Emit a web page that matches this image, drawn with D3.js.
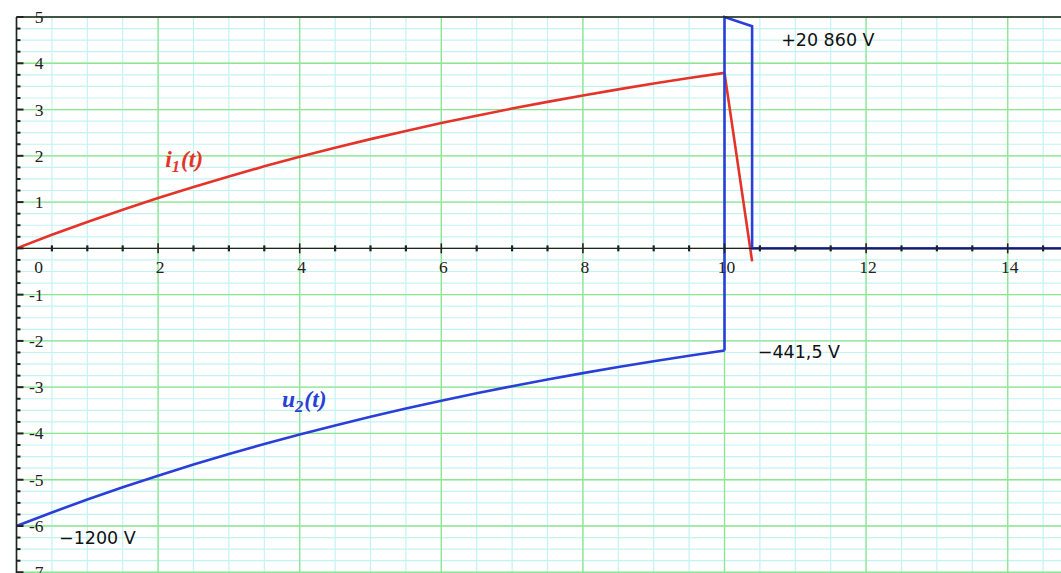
<!DOCTYPE html>
<html>
<head>
<meta charset="utf-8">
<script src="https://cdn.jsdelivr.net/npm/d3@7"></script>
<style>
  html, body { margin: 0; padding: 0; background: #fff; }
  svg { display: block; }
</style>
</head>
<body>
<svg id="chart" width="1061" height="573"></svg>
<script>
// Time samples (ms) for the charging phase
const tValues = [0, 0.5, 1, 1.5, 2, 2.5, 3, 3.5, 4, 4.5, 5, 5.5, 6, 6.5, 7, 7.5, 8, 8.5, 9, 9.5, 10];
// Primary current i1(t) (A)
const i1Values = [0, 0.293, 0.571, 0.836, 1.088, 1.327, 1.555, 1.772, 1.978, 2.174, 2.361,
                  2.538, 2.707, 2.868, 3.021, 3.166, 3.304, 3.436, 3.561, 3.680, 3.793];
// Secondary voltage u2(t) (scaled)
const u2Values = [-6, -5.707, -5.429, -5.164, -4.912, -4.673, -4.445, -4.228, -4.022, -3.826, -3.639,
                  -3.462, -3.293, -3.132, -2.980, -2.834, -2.696, -2.564, -2.440, -2.320, -2.207];
// Break of the contact: current collapse and voltage spike
const i1Break = [[10, 3.793], [10.39, -0.28]];
const u2Break = [[10, -2.207], [10, 5.0], [10.39, 4.8], [10.39, 0], [14.8, 0]];
// Axis tick labels
const xTickLabels = [0, 2, 4, 6, 8, 10, 12, 14];
const yTickLabels = [5, 4, 3, 2, 1, -1, -2, -3, -4, -5, -6, -7];
// Annotations
const annotations = [
  { text: "+20 860 V", t: 10.80, v: 4.37 },
  { text: "\u2212441,5 V", t: 10.47, v: -2.37 },
  { text: "\u22121200 V", t: 0.60, v: -6.39 }
];

const W = 1061, H = 573;
const svg = d3.select("#chart");

const x = d3.scaleLinear().domain([0, 14]).range([16.5, 1007.7]);
const y = d3.scaleLinear().domain([5, -6]).range([17, 526]);

const xMax = x.invert(W), yMin = y.invert(H);
const plotLeft = x(0), plotTop = y(5);

// Background grid: fine cyan lines, then green unit lines
const g = svg.append("g");
const minorX = d3.range(0, xMax, 0.5);
const minorY = d3.range(5, yMin, -0.25);
g.selectAll(".mx").data(minorX).join("line")
  .attr("x1", d => x(d)).attr("x2", d => x(d)).attr("y1", plotTop).attr("y2", H)
  .attr("stroke", "#c2f3f3").attr("stroke-width", 1.2);
g.selectAll(".my").data(minorY).join("line")
  .attr("x1", plotLeft).attr("x2", W).attr("y1", d => y(d)).attr("y2", d => y(d))
  .attr("stroke", "#c2f3f3").attr("stroke-width", 1.2);
const majorX = d3.range(0, xMax, 2);
const majorY = d3.range(5, yMin, -1);
g.selectAll(".Mx").data(majorX).join("line")
  .attr("x1", d => x(d)).attr("x2", d => x(d)).attr("y1", plotTop).attr("y2", H)
  .attr("stroke", "#8ee68e").attr("stroke-width", 1.3);
g.selectAll(".My").data(majorY).join("line")
  .attr("x1", plotLeft).attr("x2", W).attr("y1", d => y(d)).attr("y2", d => y(d))
  .attr("stroke", "#8ee68e").attr("stroke-width", 1.3);

// Curves
const smooth = d3.line().x(d => x(d[0])).y(d => y(d[1])).curve(d3.curveMonotoneX);
const straight = d3.line().x(d => x(d[0])).y(d => y(d[1]));
svg.append("path").attr("d", smooth(tValues.map((t, k) => [t, i1Values[k]])))
  .attr("fill", "none").attr("stroke", "#e5332a").attr("stroke-width", 2.6);
svg.append("path").attr("d", straight(i1Break))
  .attr("fill", "none").attr("stroke", "#e5332a").attr("stroke-width", 2.6);
svg.append("path").attr("d", smooth(tValues.map((t, k) => [t, u2Values[k]])))
  .attr("fill", "none").attr("stroke", "#2a3fd8").attr("stroke-width", 2.6);
svg.append("path").attr("d", straight(u2Break))
  .attr("fill", "none").attr("stroke", "#2a3fd8").attr("stroke-width", 2.6)
  .attr("stroke-linejoin", "miter");

// Axes frame
svg.append("line").attr("x1", plotLeft).attr("x2", plotLeft).attr("y1", plotTop).attr("y2", H)
  .attr("stroke", "#222").attr("stroke-width", 1.6);
svg.append("line").attr("x1", plotLeft).attr("x2", W).attr("y1", plotTop).attr("y2", plotTop)
  .attr("stroke", "#222").attr("stroke-width", 1.6);
svg.append("line").attr("x1", plotLeft).attr("x2", W).attr("y1", y(0)).attr("y2", y(0))
  .attr("stroke", "#222").attr("stroke-width", 1.3);

// Ticks on the time axis
svg.selectAll(".tx").data(minorX.filter(d => d > 0)).join("line")
  .attr("x1", d => x(d)).attr("x2", d => x(d))
  .attr("y1", d => y(0) - (d % 2 === 0 ? 5 : 3)).attr("y2", d => y(0) + (d % 2 === 0 ? 5 : 3))
  .attr("stroke", "#222").attr("stroke-width", d => d % 2 === 0 ? 1.6 : 2.2);
// Ticks on the vertical axis
svg.selectAll(".ty").data(minorY).join("line")
  .attr("x1", plotLeft).attr("x2", d => plotLeft + (Number.isInteger(d) ? 7 : 4))
  .attr("y1", d => y(d)).attr("y2", d => y(d))
  .attr("stroke", "#222").attr("stroke-width", 2);

// Tick labels
const tickFont = "'Liberation Serif', 'Times New Roman', serif";
svg.selectAll(".xl").data(xTickLabels).join("text")
  .attr("x", d => d === 0 ? x(0) + 22 : x(d) + 2)
  .attr("y", y(0) + 25)
  .attr("text-anchor", "middle")
  .attr("font-family", tickFont).attr("font-size", 17.5).attr("fill", "#222")
  .text(d => d);
svg.selectAll(".yl").data(yTickLabels).join("text")
  .attr("x", plotLeft + 27).attr("y", d => y(d) + 6)
  .attr("text-anchor", "end")
  .attr("font-family", tickFont).attr("font-size", 17.5).attr("fill", "#222")
  .text(d => d);

// Value annotations
svg.selectAll(".ann").data(annotations).join("text")
  .attr("x", d => x(d.t)).attr("y", d => y(d.v))
  .attr("font-family", "'DejaVu Sans', sans-serif").attr("font-size", 17.5).attr("fill", "#111")
  .text(d => d.text);

// Curve names
function curveName(label, sub, t, v, color) {
  const txt = svg.append("text").attr("x", x(t)).attr("y", y(v))
    .attr("font-family", tickFont).attr("font-size", 23.5).attr("font-weight", "bold")
    .attr("font-style", "italic").attr("fill", color);
  txt.append("tspan").text(label);
  txt.append("tspan").attr("dy", 5).attr("font-size", 16.5).text(sub);
  txt.append("tspan").attr("dy", -5).attr("dx", 1).text("(t)");
}
curveName("i", "1", 2.1, 1.76, "#e5332a");
curveName("u", "2", 3.75, -3.43, "#2a3fd8");
</script>
</body>
</html>
